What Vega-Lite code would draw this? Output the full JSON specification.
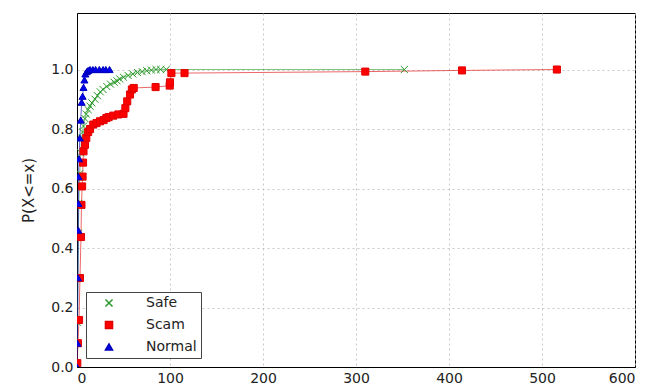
{
  "$schema": "https://vega.github.io/schema/vega-lite/v6.json",
  "width": 558,
  "height": 354,
  "autosize": {"type": "none"},
  "padding": {"left": 77, "top": 13, "right": 32, "bottom": 18},
  "background": "white",
  "config": {
    "font": "DejaVu Sans",
    "view": {"stroke": "#000", "strokeWidth": 1},
    "axis": {
      "labelFont": "DejaVu Sans",
      "labelFontSize": 14,
      "labelColor": "#222",
      "titleFont": "DejaVu Sans",
      "titleFontSize": 15,
      "titleFontWeight": "normal",
      "titleColor": "#222",
      "domainColor": "#000",
      "ticks": false,
      "labelPadding": 4,
      "gridColor": "#bbb",
      "gridDash": [2, 3],
      "gridWidth": 0.8
    },
    "legend": {
      "labelFont": "DejaVu Sans",
      "labelFontSize": 14,
      "labelColor": "#222"
    }
  },
  "data": {
    "values": [
      {"series": "Safe", "x": 0, "p": 0.0},
      {"series": "Safe", "x": 0.5, "p": 0.15},
      {"series": "Safe", "x": 1, "p": 0.3},
      {"series": "Safe", "x": 1.5, "p": 0.45},
      {"series": "Safe", "x": 2, "p": 0.55},
      {"series": "Safe", "x": 3, "p": 0.65},
      {"series": "Safe", "x": 4, "p": 0.72},
      {"series": "Safe", "x": 5, "p": 0.77},
      {"series": "Safe", "x": 6, "p": 0.79},
      {"series": "Safe", "x": 7, "p": 0.81},
      {"series": "Safe", "x": 8.6, "p": 0.835},
      {"series": "Safe", "x": 10, "p": 0.85},
      {"series": "Safe", "x": 12, "p": 0.865},
      {"series": "Safe", "x": 14, "p": 0.877},
      {"series": "Safe", "x": 16, "p": 0.888},
      {"series": "Safe", "x": 19.4, "p": 0.9},
      {"series": "Safe", "x": 22, "p": 0.912},
      {"series": "Safe", "x": 25, "p": 0.925},
      {"series": "Safe", "x": 28, "p": 0.933},
      {"series": "Safe", "x": 32, "p": 0.943},
      {"series": "Safe", "x": 36, "p": 0.951},
      {"series": "Safe", "x": 40, "p": 0.957},
      {"series": "Safe", "x": 43, "p": 0.962},
      {"series": "Safe", "x": 46, "p": 0.968},
      {"series": "Safe", "x": 50, "p": 0.974},
      {"series": "Safe", "x": 55, "p": 0.98},
      {"series": "Safe", "x": 60, "p": 0.985},
      {"series": "Safe", "x": 65, "p": 0.99},
      {"series": "Safe", "x": 70, "p": 0.993},
      {"series": "Safe", "x": 75, "p": 0.996},
      {"series": "Safe", "x": 80, "p": 0.998},
      {"series": "Safe", "x": 85, "p": 1.0},
      {"series": "Safe", "x": 90, "p": 1.0},
      {"series": "Safe", "x": 96, "p": 1.0},
      {"series": "Safe", "x": 352, "p": 1.0},
      {"series": "Scam", "x": 0.3, "p": 0.013},
      {"series": "Scam", "x": 1.0, "p": 0.08},
      {"series": "Scam", "x": 2.2, "p": 0.158},
      {"series": "Scam", "x": 3.2, "p": 0.299},
      {"series": "Scam", "x": 4.3, "p": 0.437},
      {"series": "Scam", "x": 4.8, "p": 0.545},
      {"series": "Scam", "x": 5.5, "p": 0.607},
      {"series": "Scam", "x": 6, "p": 0.64},
      {"series": "Scam", "x": 6.5, "p": 0.687},
      {"series": "Scam", "x": 7, "p": 0.725},
      {"series": "Scam", "x": 8.6, "p": 0.747},
      {"series": "Scam", "x": 10, "p": 0.77},
      {"series": "Scam", "x": 12, "p": 0.79},
      {"series": "Scam", "x": 14, "p": 0.8},
      {"series": "Scam", "x": 17.5, "p": 0.815},
      {"series": "Scam", "x": 21, "p": 0.82},
      {"series": "Scam", "x": 24.7, "p": 0.826},
      {"series": "Scam", "x": 28.6, "p": 0.83},
      {"series": "Scam", "x": 31.6, "p": 0.837},
      {"series": "Scam", "x": 34, "p": 0.84},
      {"series": "Scam", "x": 39, "p": 0.845},
      {"series": "Scam", "x": 44.4, "p": 0.849},
      {"series": "Scam", "x": 50, "p": 0.851},
      {"series": "Scam", "x": 52, "p": 0.87},
      {"series": "Scam", "x": 54, "p": 0.893},
      {"series": "Scam", "x": 57, "p": 0.916},
      {"series": "Scam", "x": 59, "p": 0.933},
      {"series": "Scam", "x": 61, "p": 0.938},
      {"series": "Scam", "x": 84.5, "p": 0.941},
      {"series": "Scam", "x": 99.7, "p": 0.946},
      {"series": "Scam", "x": 100, "p": 0.957},
      {"series": "Scam", "x": 101.5, "p": 0.988},
      {"series": "Scam", "x": 115.6, "p": 0.988},
      {"series": "Scam", "x": 310, "p": 0.993},
      {"series": "Scam", "x": 414, "p": 0.997},
      {"series": "Scam", "x": 516, "p": 1.0},
      {"series": "Normal", "x": 0, "p": 0.0},
      {"series": "Normal", "x": 0.5, "p": 0.08},
      {"series": "Normal", "x": 1.0, "p": 0.3},
      {"series": "Normal", "x": 1.4, "p": 0.46},
      {"series": "Normal", "x": 1.5, "p": 0.55},
      {"series": "Normal", "x": 1.6, "p": 0.64},
      {"series": "Normal", "x": 2.2, "p": 0.7},
      {"series": "Normal", "x": 3, "p": 0.77},
      {"series": "Normal", "x": 4, "p": 0.83},
      {"series": "Normal", "x": 5, "p": 0.89},
      {"series": "Normal", "x": 6, "p": 0.91},
      {"series": "Normal", "x": 7, "p": 0.94},
      {"series": "Normal", "x": 8, "p": 0.965},
      {"series": "Normal", "x": 9, "p": 0.985},
      {"series": "Normal", "x": 10.5, "p": 0.993},
      {"series": "Normal", "x": 12, "p": 0.997},
      {"series": "Normal", "x": 14, "p": 1.0},
      {"series": "Normal", "x": 17, "p": 1.0},
      {"series": "Normal", "x": 20, "p": 1.0},
      {"series": "Normal", "x": 24, "p": 1.0},
      {"series": "Normal", "x": 28, "p": 1.0},
      {"series": "Normal", "x": 31, "p": 1.0},
      {"series": "Normal", "x": 35, "p": 1.0}
    ]
  },
  "encoding": {
    "x": {
      "field": "x", "type": "quantitative",
      "scale": {"domain": [0, 600], "nice": false, "zero": false},
      "axis": {"values": [0, 100, 200, 300, 400, 500, 600], "title": null, "format": "d", "grid": true}
    },
    "y": {
      "field": "p", "type": "quantitative",
      "scale": {"domain": [0, 1.19], "nice": false},
      "axis": {"values": [0, 0.2, 0.4, 0.6, 0.8, 1.0], "format": ".1f", "title": "P(X<=x)", "titlePadding": 14, "grid": true}
    }
  },
  "layer": [
    {
      "mark": {"type": "line", "strokeWidth": 1, "strokeOpacity": 0.6, "clip": true},
      "encoding": {
        "stroke": {
          "field": "series", "type": "nominal",
          "scale": {"domain": ["Safe", "Scam", "Normal"], "range": ["#2a9a2a", "#e00000", "#0000bb"]}
        }
      }
    },
    {
      "mark": {"type": "point", "filled": true, "size": 50, "strokeWidth": 1, "opacity": 1, "clip": true},
      "encoding": {
        "shape": {
          "field": "series", "type": "nominal",
          "scale": {"domain": ["Safe", "Scam", "Normal"], "range": ["M-1,-1L1,1M-1,1L1,-1", "square", "triangle-up"]}
        },
        "stroke": {
          "field": "series", "type": "nominal"
        },
        "fill": {
          "field": "series", "type": "nominal",
          "scale": {"domain": ["Safe", "Scam", "Normal"], "range": ["#008000", "#ff0000", "#0000ee"]},
          "legend": {
            "title": null,
            "orient": "bottom-left",
            "offset": 9,
            "padding": 4,
            "strokeColor": "#444",
            "fillColor": "white",
            "symbolSize": 50,
            "symbolOffset": 12,
            "labelOffset": 30,
            "rowPadding": 8,
            "encode": {
              "symbols": {
                "update": {
                  "opacity": {"value": 1},
                  "strokeOpacity": {"value": 1},
                  "strokeWidth": {"value": 1}
                }
              }
            }
          }
        }
      }
    }
  ]
}
